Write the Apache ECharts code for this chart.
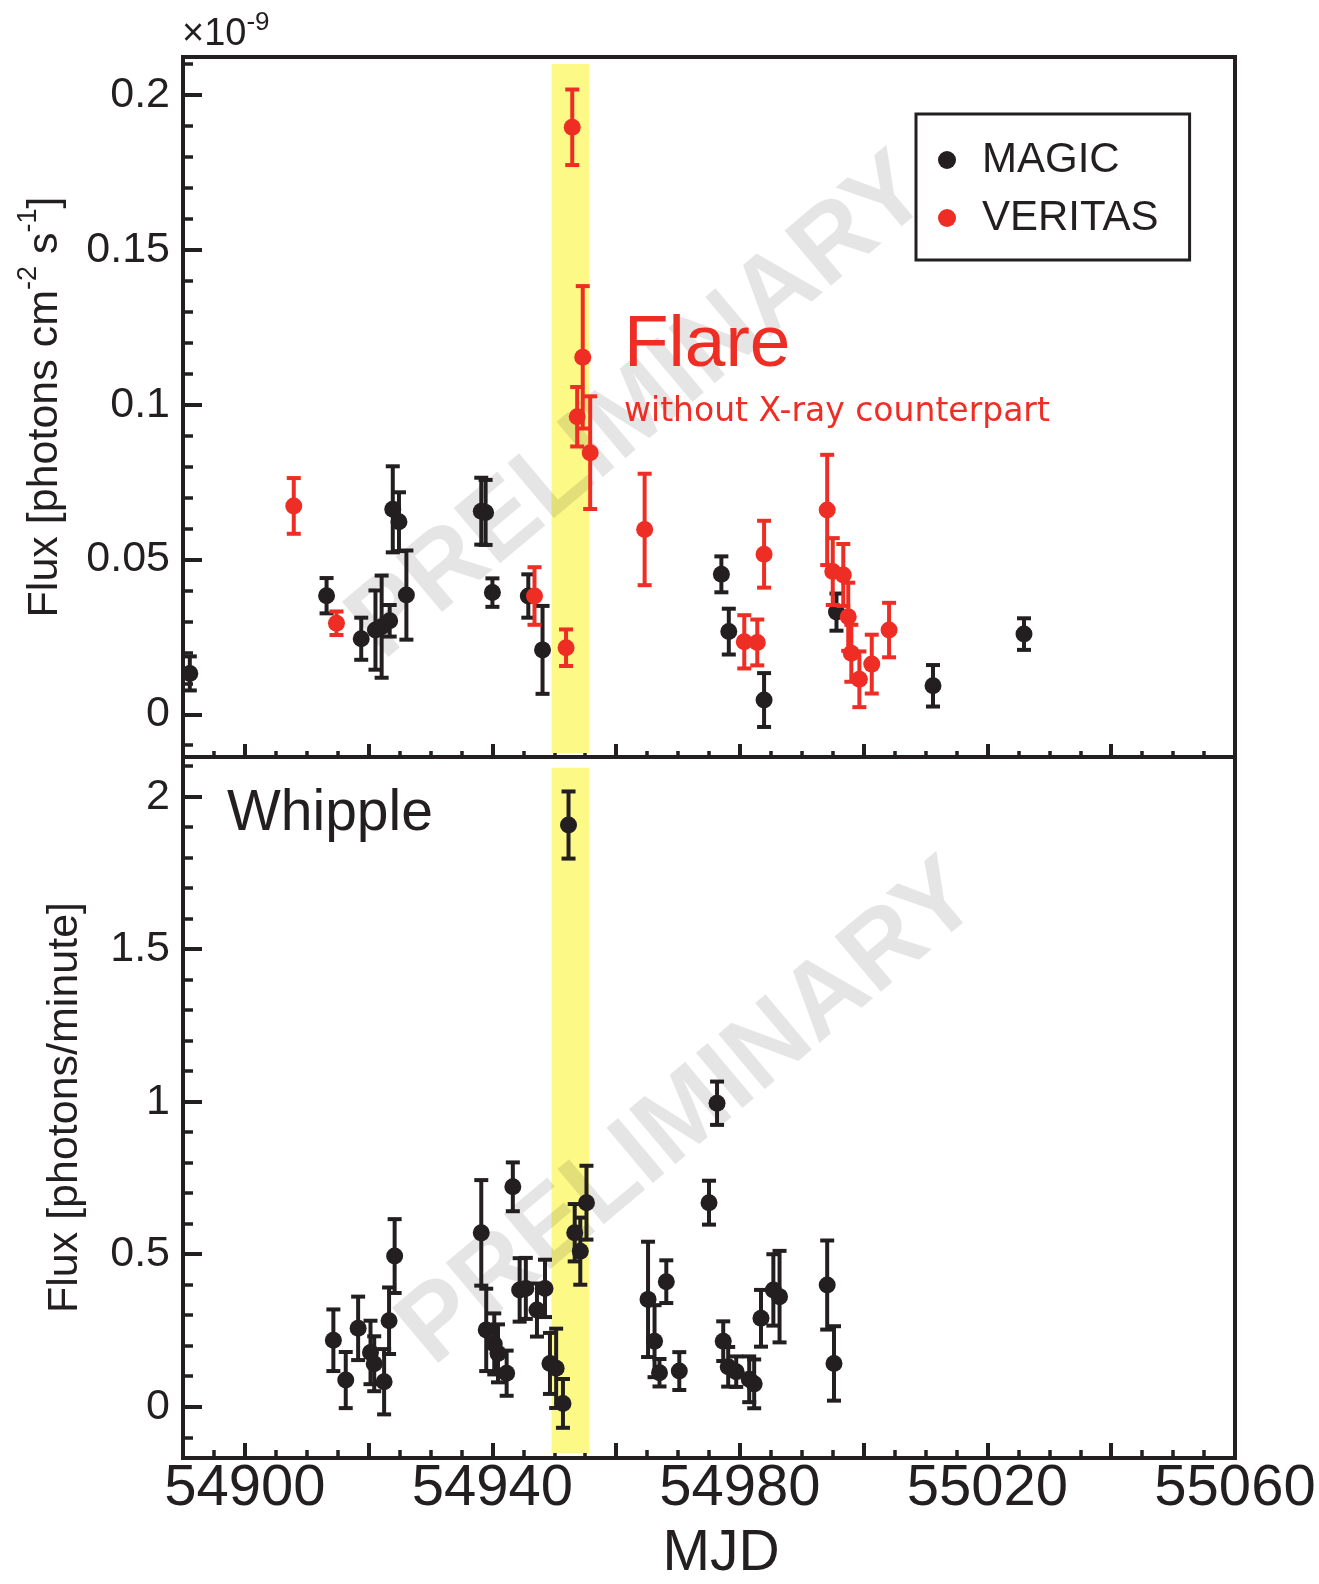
<!DOCTYPE html>
<html><head><meta charset="utf-8">
<script src="https://cdn.jsdelivr.net/npm/echarts@6/dist/echarts.min.js"></script>
<style>html,body{margin:0;padding:0;background:#fff}#c{width:1319px;height:1584px}</style>
</head><body><div id="c"></div>
<script>
// ---------- data ----------
const magicMJD  = [54891.1, 54913.2, 54918.8, 54921.1, 54922.1, 54923.4, 54923.9, 54924.9, 54926.1, 54938.2, 54938.9, 54940.0, 54945.8, 54948.1, 54977.0, 54978.2, 54983.9, 54995.6, 55011.2, 55025.9];
const magicFlux = [0.0132, 0.0383, 0.0244, 0.0272, 0.0283, 0.0302, 0.0662, 0.0622, 0.0385, 0.0656, 0.0652, 0.0393, 0.0382, 0.0208, 0.0452, 0.0267, 0.0046, 0.0330, 0.0092, 0.0259];
const magicErr  = [0.0055, 0.0057, 0.0068, 0.0128, 0.0165, 0.0051, 0.0139, 0.0095, 0.0144, 0.0108, 0.0105, 0.0046, 0.0070, 0.0142, 0.0058, 0.0074, 0.0087, 0.0060, 0.0067, 0.0051];

const veritasMJD  = [54907.9, 54914.8, 54946.8, 54951.9, 54952.9, 54953.7, 54954.6, 54955.8, 54964.6, 54980.7, 54982.8, 54983.9, 54994.1, 54995.0, 54996.7, 54997.5, 54998.0, 54999.3, 55001.3, 55004.1];
const veritasFlux = [0.0673, 0.0294, 0.0382, 0.0215, 0.1896, 0.0961, 0.1153, 0.0845, 0.0597, 0.0234, 0.0232, 0.0517, 0.0660, 0.0461, 0.0450, 0.0315, 0.0197, 0.0113, 0.0162, 0.0272];
const veritasErr  = [0.0090, 0.0038, 0.0093, 0.0059, 0.0122, 0.0096, 0.0230, 0.0182, 0.0180, 0.0086, 0.0074, 0.0108, 0.0178, 0.0108, 0.0100, 0.0110, 0.0092, 0.0090, 0.0095, 0.0088];

const whippleMJD  = [54914.3, 54916.3, 54918.3, 54920.3, 54920.9, 54922.5, 54923.3, 54924.2, 54938.2, 54939.0, 54940.3, 54940.9, 54942.3, 54943.3, 54944.4, 54945.4, 54947.2, 54948.5, 54949.3, 54950.3, 54951.4, 54952.3, 54953.3, 54954.2, 54955.2, 54965.15, 54966.2, 54967.0, 54968.1, 54970.2, 54975.0, 54976.3, 54977.3, 54978.1, 54979.4, 54981.5, 54982.3, 54983.4, 54985.4, 54986.4, 54994.1, 54995.2];
const whippleRate = [0.218, 0.0875, 0.257, 0.178, 0.141, 0.082, 0.282, 0.494, 0.570, 0.252, 0.206, 0.175, 0.110, 0.721, 0.383, 0.388, 0.317, 0.388, 0.142, 0.126, 0.011, 1.907, 0.5705, 0.510, 0.669, 0.352, 0.215, 0.1115, 0.410, 0.117, 0.669, 0.995, 0.215, 0.131, 0.115, 0.090, 0.075, 0.290, 0.383, 0.361, 0.399, 0.142];
const whippleErr  = [0.101, 0.092, 0.104, 0.104, 0.090, 0.107, 0.109, 0.121, 0.173, 0.135, 0.100, 0.095, 0.074, 0.080, 0.104, 0.100, 0.087, 0.094, 0.100, 0.130, 0.080, 0.110, 0.094, 0.110, 0.121, 0.189, 0.118, 0.045, 0.070, 0.062, 0.072, 0.071, 0.065, 0.065, 0.050, 0.075, 0.080, 0.093, 0.117, 0.150, 0.146, 0.122];

const flareBand = [54949.55, 54955.63];

// ---------- ticks ----------
const mjdMajorTicks = [54900, 54920, 54940, 54960, 54980, 55000, 55020, 55040, 55060];
const mjdLabelTicks = [54900, 54940, 54980, 55020, 55060];
const mjdMinorTicks = [54895, 54905, 54910, 54915, 54925, 54930, 54935, 54945, 54950, 54955, 54965, 54970, 54975, 54985, 54990, 54995, 55005, 55010, 55015, 55025, 55030, 55035, 55045, 55050, 55055];
const fluxTicks  = [0, 0.05, 0.1, 0.15, 0.2];
const fluxLabels = ['0', '0.05', '0.1', '0.15', '0.2'];
const fluxMinor  = [-0.01, 0.01, 0.02, 0.03, 0.04, 0.06, 0.07, 0.08, 0.09, 0.11, 0.12, 0.13, 0.14, 0.16, 0.17, 0.18, 0.19, 0.21];
const rateTicks  = [0, 0.5, 1, 1.5, 2];
const rateLabels = ['0', '0.5', '1', '1.5', '2'];
const rateMinor  = [-0.1, 0.1, 0.2, 0.3, 0.4, 0.6, 0.7, 0.8, 0.9, 1.1, 1.2, 1.3, 1.4, 1.6, 1.7, 1.8, 1.9, 2.1];

// ---------- style ----------
const FONT = '"Liberation Sans", Arial, Helvetica, sans-serif';
const BLACK = '#231f20';
const RED = '#ee2e24';
const YELLOW = '#fcf987';

function lookupLabel(ticks, labels) {
  return function (v) {
    for (let i = 0; i < ticks.length; i++) if (Math.abs(ticks[i] - v) < 1e-9) return labels[i];
    return '';
  };
}

function errBars(xs, ys, es, color, xi, yi, z) {
  return {
    type: 'custom', xAxisIndex: xi, yAxisIndex: yi, z: z, silent: true, clip: false,
    data: xs.map((x, i) => [x, ys[i], ys[i] - es[i], ys[i] + es[i]]),
    encode: { x: 0, y: [1, 2, 3] },
    renderItem: function (params, api) {
      const x = api.value(0);
      const hi = api.coord([x, api.value(3)]);
      const lo = api.coord([x, api.value(2)]);
      const hw = 7;
      const st = { stroke: color, lineWidth: 4 };
      return {
        type: 'group', children: [
          { type: 'line', shape: { x1: hi[0], y1: hi[1], x2: lo[0], y2: lo[1] }, style: st },
          { type: 'line', shape: { x1: hi[0] - hw, y1: hi[1], x2: hi[0] + hw, y2: hi[1] }, style: st },
          { type: 'line', shape: { x1: lo[0] - hw, y1: lo[1], x2: lo[0] + hw, y2: lo[1] }, style: st }
        ]
      };
    }
  };
}

function pts(name, xs, ys, color, xi, yi, z) {
  return {
    type: 'scatter', name: name, xAxisIndex: xi, yAxisIndex: yi, z: z, silent: true,
    symbol: 'circle', symbolSize: 17, itemStyle: { color: color, opacity: 1 },
    data: xs.map((x, i) => [x, ys[i]])
  };
}

const X_MIN = 54890, X_MAX = 55060;
const TOP_MIN = -0.0138, TOP_MAX = 0.2123;
const BOT_MIN = -0.168, BOT_MAX = 2.130;

function xAxisMajor(grid, showLabels, tickLen) {
  const ax = {
    type: 'value', gridIndex: grid, position: 'bottom', min: X_MIN, max: X_MAX,
    axisLine: { show: false, onZero: false }, splitLine: { show: false },
    axisTick: { show: true, inside: true, length: tickLen, customValues: mjdMajorTicks, lineStyle: { color: BLACK, width: 4 } },
    axisLabel: { show: false }
  };
  if (showLabels) {
    ax.axisLabel = {
      show: true, customValues: mjdLabelTicks, margin: 2, fontSize: 58, fontFamily: FONT, color: BLACK,
      showMinLabel: true, showMaxLabel: true, formatter: v => String(v)
    };
    ax.name = 'MJD';
    ax.nameLocation = 'middle';
    ax.nameGap = 68;
    ax.nameTextStyle = { fontSize: 57, fontFamily: FONT, color: BLACK, padding: [0, 0, 0, 24] };
  }
  return ax;
}
function xAxisMinor(grid, tickLen) {
  return {
    type: 'value', gridIndex: grid, position: 'bottom', min: X_MIN, max: X_MAX,
    axisLine: { show: false, onZero: false }, splitLine: { show: false }, axisLabel: { show: false },
    axisTick: { show: true, inside: true, length: tickLen, customValues: mjdMinorTicks, lineStyle: { color: BLACK, width: 3.5 } }
  };
}
function yAxisPair(grid, min, max, ticks, labels, minor, name, nameGap, nameStyle) {
  return [
    {
      type: 'value', gridIndex: grid, position: 'left', min: min, max: max,
      axisLine: { show: false, onZero: false }, splitLine: { show: false },
      axisTick: { show: true, inside: true, length: 19, customValues: ticks, lineStyle: { color: BLACK, width: 4 } },
      axisLabel: { show: true, customValues: ticks, margin: 13, fontSize: 43, fontFamily: FONT, color: BLACK, formatter: lookupLabel(ticks, labels) },
      name: name, nameLocation: 'middle', nameGap: nameGap, nameTextStyle: nameStyle
    },
    {
      type: 'value', gridIndex: grid, position: 'left', min: min, max: max,
      axisLine: { show: false, onZero: false }, splitLine: { show: false }, axisLabel: { show: false },
      axisTick: { show: true, inside: true, length: 10, customValues: minor, lineStyle: { color: BLACK, width: 3.5 } }
    }
  ];
}

const topY = yAxisPair(0, TOP_MIN, TOP_MAX, fluxTicks, fluxLabels, fluxMinor,
  'Flux [photons cm{s|-2} s{s|-1}]', 107,
  { fontSize: 43, fontFamily: FONT, color: BLACK, lineHeight: 60,
    rich: { s: { fontSize: 27, fontFamily: FONT, color: BLACK, verticalAlign: 'top', lineHeight: 27 } } });
const botY = yAxisPair(1, BOT_MIN, BOT_MAX, rateTicks, rateLabels, rateMinor,
  'Flux [photons/minute]', 96, { fontSize: 43, fontFamily: FONT, color: BLACK });

const WM_STYLE = { text: 'PRELIMINARY', fontSize: 105, fontWeight: 'bold', fontFamily: FONT, fill: 'rgba(0,0,0,0.1)', align: 'center', verticalAlign: 'middle' };

const option = {
  animation: false,
  backgroundColor: '#ffffff',
  grid: [
    { left: 183, top: 57, width: 1052, height: 700, show: true, borderWidth: 4, borderColor: BLACK, backgroundColor: 'transparent', outerBoundsMode: 'none', containLabel: false },
    { left: 183, top: 757, width: 1052, height: 701, show: true, borderWidth: 4, borderColor: BLACK, backgroundColor: 'transparent', outerBoundsMode: 'none', containLabel: false }
  ],
  xAxis: [xAxisMajor(0, false, 13), xAxisMinor(0, 6), xAxisMajor(1, true, 15), xAxisMinor(1, 8)],
  yAxis: [topY[0], topY[1], botY[0], botY[1]],
  legend: {
    data: ['MAGIC', 'VERITAS'], orient: 'vertical', left: 916, top: 114,
    icon: 'circle', itemWidth: 18, itemHeight: 18, itemGap: 16,
    padding: [25, 31, 21, 22], borderColor: BLACK, borderWidth: 3, backgroundColor: '#ffffff',
    textStyle: { fontSize: 42, fontFamily: FONT, color: BLACK, padding: [0, 0, 0, 21] },
    selectedMode: false
  },
  graphic: [
    { type: 'text', x: 640, y: 408, rotation: 40 * Math.PI / 180, z: 2, silent: true, style: WM_STYLE },
    { type: 'text', x: 690, y: 1114, rotation: 40 * Math.PI / 180, z: 2, silent: true, style: WM_STYLE },
    { type: 'text', x: 182, y: 10, z: 20, silent: true,
      style: { text: '×10{s|-9}', fontSize: 38, fontFamily: FONT, fill: BLACK, align: 'left', verticalAlign: 'top', lineHeight: 50,
        rich: { s: { fontSize: 26, fontFamily: FONT, fill: BLACK, verticalAlign: 'top', lineHeight: 26 } } } },
    { type: 'text', x: 624, y: 309, z: 20, silent: true,
      style: { text: 'Flare', fontSize: 73, fontFamily: FONT, fill: RED, align: 'left', verticalAlign: 'top' } },
    { type: 'text', x: 624, y: 396, z: 20, silent: true,
      style: { text: 'without X-ray counterpart', fontSize: 33, fontFamily: '"DejaVu Sans", sans-serif', fill: RED, align: 'left', verticalAlign: 'top' } },
    { type: 'text', x: 227, y: 786, z: 20, silent: true,
      style: { text: 'Whipple', fontSize: 57, fontFamily: FONT, fill: BLACK, align: 'left', verticalAlign: 'top' } }
  ],
  series: [
    { type: 'line', xAxisIndex: 0, yAxisIndex: 0, data: [], z: 1, silent: true,
      markArea: { silent: true, itemStyle: { color: YELLOW, opacity: 1 },
        data: [[{ xAxis: flareBand[0], yAxis: -0.0125 }, { xAxis: flareBand[1], yAxis: 0.21 }]] } },
    { type: 'line', xAxisIndex: 2, yAxisIndex: 2, data: [], z: 1, silent: true,
      markArea: { silent: true, itemStyle: { color: YELLOW, opacity: 1 },
        data: [[{ xAxis: flareBand[0], yAxis: -0.152 }, { xAxis: flareBand[1], yAxis: 2.095 }]] } },
    errBars(magicMJD, magicFlux, magicErr, BLACK, 0, 0, 3),
    pts('MAGIC', magicMJD, magicFlux, BLACK, 0, 0, 4),
    errBars(veritasMJD, veritasFlux, veritasErr, RED, 0, 0, 5),
    pts('VERITAS', veritasMJD, veritasFlux, RED, 0, 0, 6),
    errBars(whippleMJD, whippleRate, whippleErr, BLACK, 2, 2, 3),
    pts('Whipple', whippleMJD, whippleRate, BLACK, 2, 2, 4)
  ]
};

const chart = echarts.init(document.getElementById('c'), null, { renderer: 'canvas' });
chart.setOption(option);
</script>
</body></html>
